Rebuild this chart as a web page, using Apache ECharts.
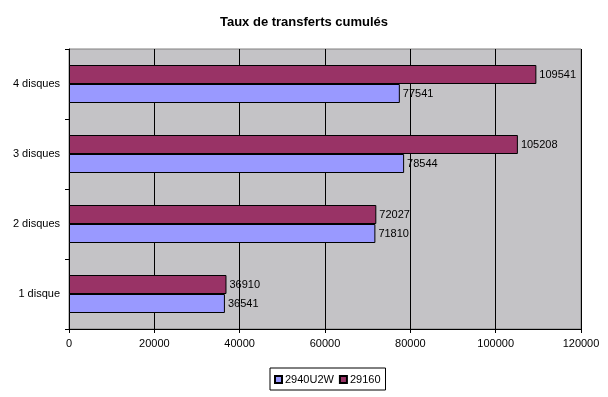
<!DOCTYPE html>
<html>
<head>
<meta charset="utf-8">
<script src="https://cdn.jsdelivr.net/npm/echarts@6/dist/echarts.min.js"></script>
<style>
  html, body { margin: 0; padding: 0; background: #ffffff; }
  #chart { width: 608px; height: 397px; }
</style>
</head>
<body>
<div id="chart"></div>
<script>
// donnees
var categories = ['1 disque', '2 disques', '3 disques', '4 disques'];
var seriesNames = ['2940U2W', '29160'];
var valsU2W = [36541, 71810, 78544, 77541];
var vals29160 = [36910, 72027, 105208, 109541];

var myChart = echarts.init(document.getElementById('chart'));

var labelStyle = {
    show: true,
    position: 'right',
    distance: 3,
    color: '#000000',
    fontFamily: 'Liberation Sans, Arial, sans-serif',
    fontSize: 11
};

var option = {
    animation: false,
    backgroundColor: '#ffffff',
    title: {
        text: 'Taux de transferts cumulés',
        left: 'center',
        top: 11,
        textStyle: {
            fontFamily: 'Liberation Sans, Arial, sans-serif',
            fontSize: 13,
            fontWeight: 'bold',
            color: '#000000'
        }
    },
    legend: {
        data: seriesNames,
        left: 270,
        top: 368,
        orient: 'horizontal',
        itemWidth: 7,
        itemHeight: 7,
        itemGap: 5,
        padding: [6, 5, 5, 4],
        borderColor: '#000000',
        borderWidth: 1,
        icon: 'rect',
        textStyle: {
            fontFamily: 'Liberation Sans, Arial, sans-serif',
            fontSize: 11,
            color: '#000000',
            padding: [0, 0, 0, -2]
        }
    },
    grid: {
        left: 69,
        right: 27,
        top: 49,
        bottom: 68,
        show: true,
        backgroundColor: '#c4c3c6',
        borderColor: '#808080',
        borderWidth: 1
    },
    xAxis: {
        type: 'value',
        min: 0,
        max: 120000,
        interval: 20000,
        axisLine: { show: true, lineStyle: { color: '#000000', width: 1 } },
        axisTick: { show: true, length: 4, inside: false, lineStyle: { color: '#000000' } },
        splitLine: { show: true, lineStyle: { color: '#000000', width: 1 } },
        axisLabel: {
            color: '#000000',
            fontFamily: 'Liberation Sans, Arial, sans-serif',
            fontSize: 11,
            margin: 9,
            formatter: function (v) { return String(v); }
        }
    },
    yAxis: {
        type: 'category',
        data: categories,
        axisLine: { show: true, onZero: false, lineStyle: { color: '#000000', width: 1 } },
        axisTick: { show: true, length: 4, lineStyle: { color: '#000000' } },
        axisLabel: {
            color: '#000000',
            fontFamily: 'Liberation Sans, Arial, sans-serif',
            fontSize: 11,
            margin: 9
        }
    },
    // 29160 d'abord : echarts place la premiere serie en haut
    series: [{
        name: seriesNames[1],
        type: 'bar',
        data: vals29160,
        barWidth: 19,
        barGap: '0%',
        itemStyle: { color: '#993366', borderColor: '#000000', borderWidth: 1 },
        label: labelStyle
    }, {
        name: seriesNames[0],
        type: 'bar',
        data: valsU2W,
        barWidth: 19,
        barGap: '0%',
        itemStyle: { color: '#9999ff', borderColor: '#000000', borderWidth: 1 },
        label: labelStyle
    }]
};

myChart.setOption(option);
</script>
</body>
</html>
